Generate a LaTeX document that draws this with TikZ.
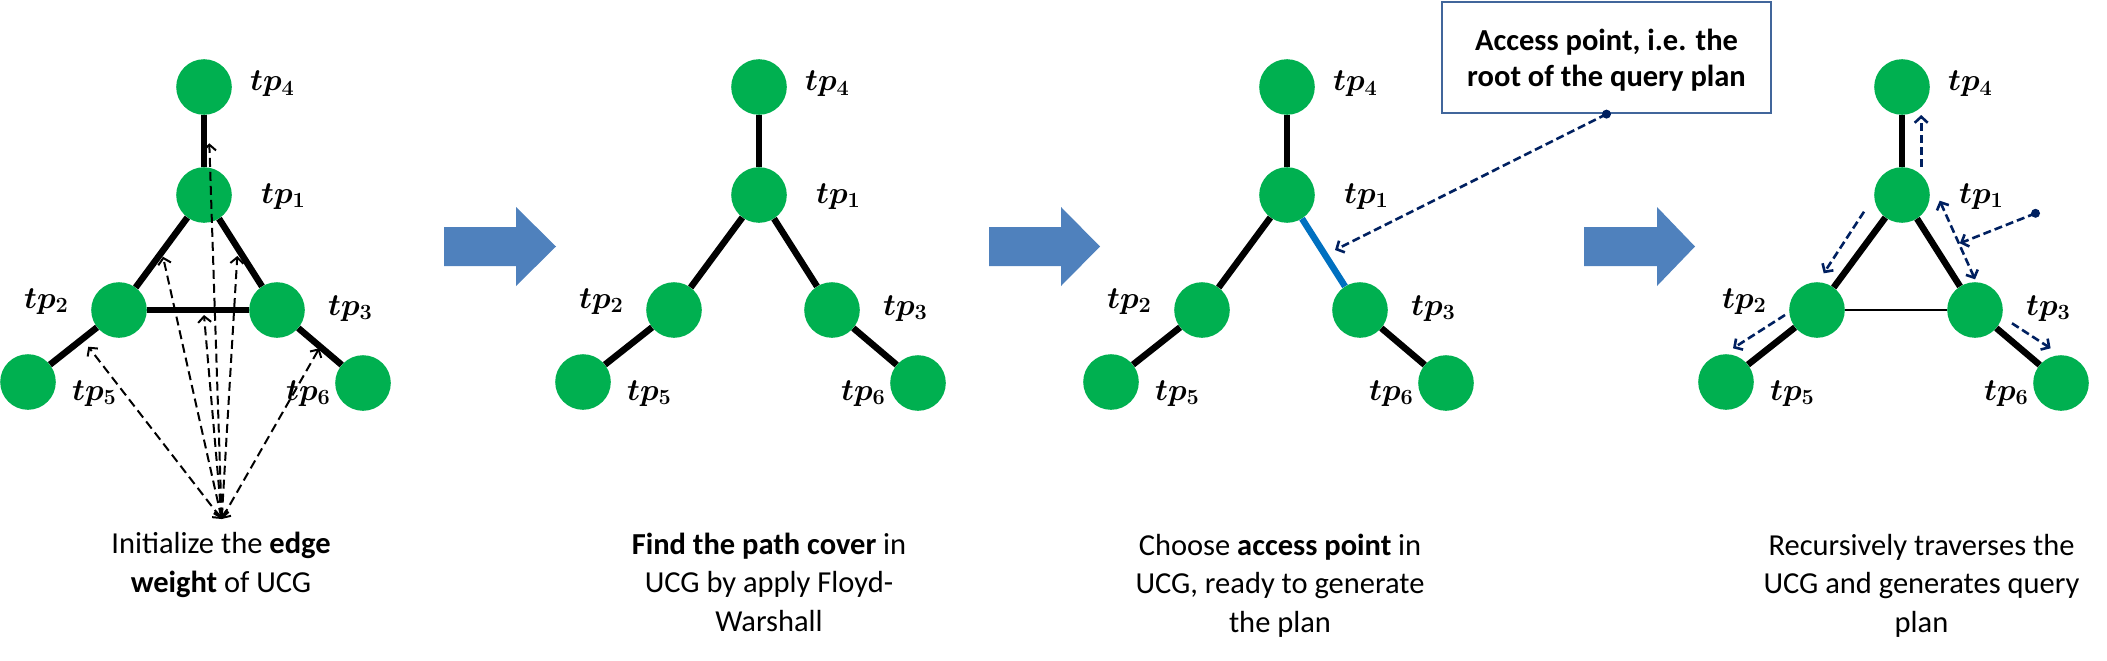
\RequirePackage{fix-cm}
\documentclass[tikz,border=0pt]{standalone}
\usepackage[no-math]{fontspec}
\setmainfont{Carlito}
\usetikzlibrary{arrows.meta}
\definecolor{nodegreen}{HTML}{00B050}
\definecolor{bigarrow}{HTML}{4F81BD}
\definecolor{navy}{HTML}{002060}
\definecolor{edgeblue}{HTML}{0070C0}
\definecolor{boxborder}{HTML}{41669B}
\tikzset{
  vtx/.style={circle,fill=nodegreen,minimum size=55.6pt,inner sep=0pt},
  lbl/.style={anchor=base west,inner sep=0pt,font=\fontsize{31}{36}\selectfont\boldmath},
  ucgedge/.style={line width=6.5pt},
  thinedge/.style={line width=1.2pt},
  barb/.tip={Straight Barb[length=6pt,width=13pt]},
  weightarrow/.style={black,line width=2pt,dash pattern=on 9pt off 5pt,barb-barb},
  navyarrow/.style={navy,line width=2.6pt,dash pattern=on 8pt off 4pt,-barb},
  navydouble/.style={navyarrow,barb-barb},
  bigarrowfill/.style={fill=bigarrow,draw=none},
  capt/.style={anchor=base,align=center,inner sep=0pt,font=\fontsize{30.5}{38.5}\selectfont},
  callout/.style={draw=boxborder,line width=2.2pt,minimum width=329pt,minimum height=111pt,
    align=center,inner sep=0pt,text depth=0pt,font=\fontsize{30.5}{36}\selectfont\bfseries},
}
\newcommand\ucgnodes[2]{%
  \node[vtx] (#1-4) at (#2+204,87) {};
  \node[vtx] (#1-1) at (#2+204,195) {};
  \node[vtx] (#1-2) at (#2+119,310) {};
  \node[vtx] (#1-3) at (#2+277,310) {};
  \node[vtx] (#1-5) at (#2+28,382) {};
  \node[vtx] (#1-6) at (#2+363,383) {};
  \node[lbl] (#1-l4) at (#2+250,91) {$tp_4$};
  \node[lbl] (#1-l1) at (#2+261,203) {$tp_1$};
  \node[lbl] (#1-l2) at (#2+24,308) {$tp_2$};
  \node[lbl] (#1-l3) at (#2+328,315) {$tp_3$};
  \node[lbl] (#1-l5) at (#2+72,400) {$tp_5$};
  \node[lbl] (#1-l6) at (#2+286,400) {$tp_6$};
}
\newcommand\bigarrowshape[3]{%
  \fill[bigarrowfill] (#1,227) -- (#2,227) -- (#2,207) -- (#3,246.5) -- (#2,286) -- (#2,266) -- (#1,266) -- cycle;
}
\begin{document}
\begin{tikzpicture}[x=1pt,y=-1pt]
\useasboundingbox (0,0) rectangle (2107,661);

% ---------- panel 1 ----------
\ucgnodes{a}{0}
\draw[ucgedge] (a-4) -- (a-1);
\draw[ucgedge] (a-1) -- (a-2);
\draw[ucgedge] (a-1) -- (a-3);
\draw[ucgedge] (a-2) -- (a-3);
\draw[ucgedge] (a-2) -- (a-5);
\draw[ucgedge] (a-3) -- (a-6);
\coordinate (w0) at (221.7,519);
\coordinate (w25) at (88.3,346.7);
\coordinate (w12) at (163,256.7);
\coordinate (w23) at (204,315);
\coordinate (w14) at (209.3,143.3);
\coordinate (w13) at (237.3,256);
\coordinate (w36) at (319.3,348.3);
\draw[weightarrow] (w0) -- (w25);
\draw[weightarrow] (w0) -- (w12);
\draw[weightarrow] (w0) -- (w23);
\draw[weightarrow] (w0) -- (w14);
\draw[weightarrow] (w0) -- (w13);
\draw[weightarrow] (w0) -- (w36);
\node[capt] (t1) at (221,592) {Initialize the \textbf{edge}\\\textbf{weight} of UCG};

\bigarrowshape{444}{516}{556}

% ---------- panel 2 ----------
\ucgnodes{b}{555}
\draw[ucgedge] (b-4) -- (b-1);
\draw[ucgedge] (b-1) -- (b-2);
\draw[ucgedge] (b-1) -- (b-3);
\draw[ucgedge] (b-2) -- (b-5);
\draw[ucgedge] (b-3) -- (b-6);
\node[capt] (t2) at (769,631) {\textbf{Find the path cover} in\\UCG by apply Floyd-\\Warshall};

\bigarrowshape{989}{1061}{1100}

% ---------- panel 3 ----------
\ucgnodes{c}{1083}
\draw[ucgedge] (c-4) -- (c-1);
\draw[ucgedge] (c-1) -- (c-2);
\draw[ucgedge,edgeblue] (c-1) -- (c-3);
\draw[ucgedge] (c-2) -- (c-5);
\draw[ucgedge] (c-3) -- (c-6);
\node[callout] (cb) at (1606.5,57.5) {Access point, i.e. the\\root of the query plan};
\coordinate (ctip) at (1335,250);
\draw[navyarrow] (cb.south) -- (ctip);
\fill[navy] (cb.south) circle (4.5pt);
\node[capt] (t3) at (1280,632) {Choose \textbf{access point} in\\UCG, ready to generate\\the plan};

\bigarrowshape{1584}{1657}{1695}

% ---------- panel 4 ----------
\ucgnodes{d}{1698}
\draw[ucgedge] (d-4) -- (d-1);
\draw[ucgedge] (d-1) -- (d-2);
\draw[ucgedge] (d-1) -- (d-3);
\draw[thinedge] (d-2) -- (d-3);
\draw[ucgedge] (d-2) -- (d-5);
\draw[ucgedge] (d-3) -- (d-6);
\coordinate (u1) at (1921.2,166.7);
\coordinate (u2) at (1921.2,115);
\coordinate (l1) at (1864,211.7);
\coordinate (l2) at (1823.7,273.3);
\coordinate (m1) at (1785,315);
\coordinate (m2) at (1733,348.3);
\coordinate (r1) at (2012,323.3);
\coordinate (r2) at (2050.6,348.3);
\coordinate (dd1) at (1939.7,200.7);
\coordinate (dd2) at (1975,279.3);
\coordinate (dot) at (2035.5,213.3);
\coordinate (dt) at (1959.8,243.3);
\draw[navyarrow] (u1) -- (u2);
\draw[navyarrow] (l1) -- (l2);
\draw[navyarrow] (m1) -- (m2);
\draw[navyarrow] (r1) -- (r2);
\draw[navydouble] (dd1) -- (dd2);
\draw[navyarrow] (dot) -- (dt);
\fill[navy] (dot) circle (4.5pt);
\node[capt] (t4) at (1921.5,632) {Recursively traverses the\\UCG and generates query\\plan};
\end{tikzpicture}
\end{document}
